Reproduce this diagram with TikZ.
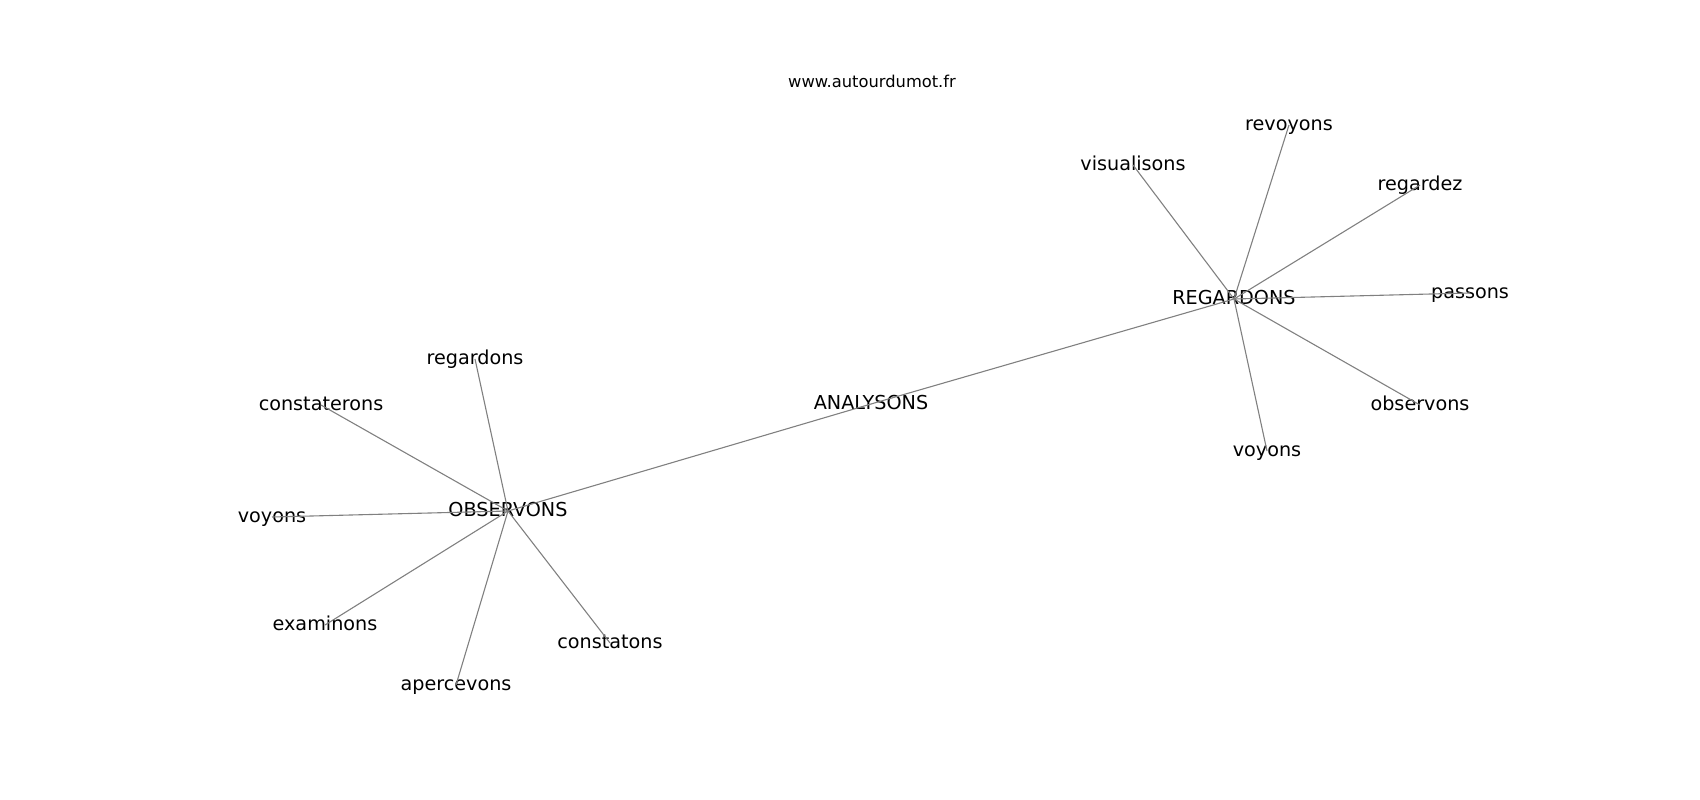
\documentclass[tikz,border=0pt]{standalone}
\usepackage{fontspec}
\setmainfont{DejaVu Sans}
\begin{document}
\begin{tikzpicture}[x=1pt,y=-1pt,
  lbl/.style={inner sep=0pt,outer sep=0pt,text height=14pt,text depth=4pt,
    font=\fontsize{19.2}{19.2}\selectfont,text=black},
  ttl/.style={inner sep=0pt,anchor=base,font=\fontsize{16.3}{16.3}\selectfont,text=black},
  edge/.style={draw=black!50,line width=1.1pt}]
\useasboundingbox (0,0) rectangle (1700,800);
% nodes
\node[lbl] (obs) at (508,511) {OBSERVONS};
\node[lbl] (ana) at (871,404) {ANALYSONS};
\node[lbl] (reg) at (1234,299) {REGARDONS};
\node[lbl] (o1) at (475,359) {regardons};
\node[lbl] (o2) at (321,405) {constaterons};
\node[lbl] (o3) at (272,517) {voyons};
\node[lbl] (o4) at (325,625) {examinons};
\node[lbl] (o5) at (456,685) {apercevons};
\node[lbl] (o6) at (610,643) {constatons};
\node[lbl] (r1) at (1133,165) {visualisons};
\node[lbl] (r2) at (1289,125) {revoyons};
\node[lbl] (r3) at (1420,185) {regardez};
\node[lbl] (r4) at (1470,293) {passons};
\node[lbl] (r5) at (1420,405) {observons};
\node[lbl] (r6) at (1267,451) {voyons};
\node[ttl] (title) at (872,88) {www.autourdumot.fr};
% edges
\foreach \a/\b in {obs/ana,ana/reg,obs/o1,obs/o2,obs/o3,obs/o4,obs/o5,obs/o6,
  reg/r1,reg/r2,reg/r3,reg/r4,reg/r5,reg/r6}
  \draw[edge] (\a.center) -- (\b.center);
\end{tikzpicture}
\end{document}
